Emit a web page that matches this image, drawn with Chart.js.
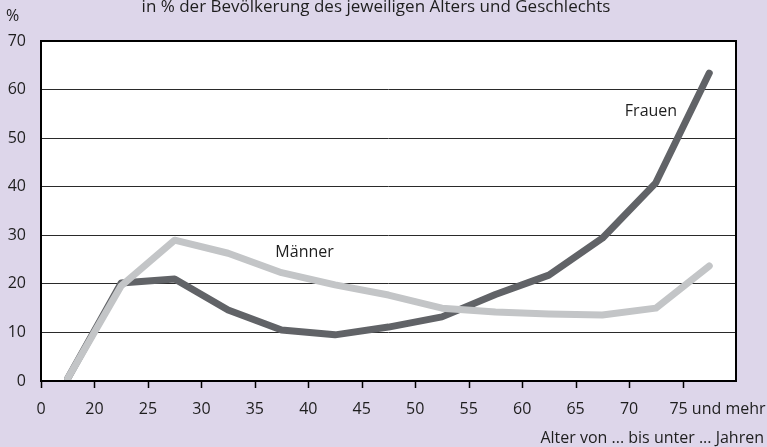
<!DOCTYPE html>
<html>
<head>
<meta charset="utf-8">
<script src="https://cdn.jsdelivr.net/npm/chart.js@4/dist/chart.umd.min.js"></script>
<style>
  html, body { margin: 0; padding: 0; background: #ddd6ea; }
  #wrap { width: 767px; height: 447px; }
</style>
</head>
<body>
<div id="wrap"><canvas id="lebenChart"></canvas></div>
<script>
// age groups (tick labels sit on the left edge of each group)
const ageLabels = ['0', '20', '25', '30', '35', '40', '45', '50', '55', '60', '65', '70', '75 und mehr'];
const frauen = [0.5, 20.2, 21.0, 14.6, 10.5, 9.5, 11.1, 13.2, 17.8, 21.8, 29.4, 40.8, 63.4];
const maenner = [0.5, 19.6, 29.0, 26.3, 22.3, 19.8, 17.7, 15.0, 14.2, 13.8, 13.6, 15.0, 23.7];
const yTicks = [0, 10, 20, 30, 40, 50, 60, 70];

const FONT = '"Open Sans", "Noto Sans", sans-serif';
const TXT = '#1e1e1e';

// series labels placed in data coordinates
const seriesNotes = [
    { text: 'Männer', x: 4.93, y: 26.4 },
    { text: 'Frauen', x: 11.41, y: 55.6 }
];

const toPoints = arr => arr.map((v, i) => ({ x: i + 0.5, y: v }));

const decor = {
    id: 'decor',
    afterDraw(chart) {
        const { ctx, chartArea: a, scales } = chart;
        const xs = scales.x, ys = scales.y;
        ctx.save();
        // frame
        ctx.strokeStyle = '#000';
        ctx.lineWidth = 2;
        ctx.strokeRect(a.left, a.top, a.right - a.left, a.bottom - a.top);
        // x tick marks
        ctx.lineWidth = 1.5;
        ctx.beginPath();
        for (let i = 0; i < ageLabels.length; i++) {
            const px = Math.round(xs.getPixelForValue(i)) + 0.5;
            ctx.moveTo(px, a.bottom);
            ctx.lineTo(px, a.bottom + 7);
        }
        ctx.stroke();
        // x labels
        ctx.fillStyle = TXT;
        ctx.font = '16px ' + FONT;
        ctx.textBaseline = 'middle';
        ageLabels.forEach((lab, i) => {
            const px = xs.getPixelForValue(i);
            if (i === ageLabels.length - 1) {
                ctx.textAlign = 'left';
                ctx.fillText(lab, px - ctx.measureText('75').width / 2 - 4, 409);
            } else {
                ctx.textAlign = 'center';
                ctx.fillText(lab, px, 409);
            }
        });
        // axis title, unit, subtitle
        ctx.textAlign = 'right';
        ctx.fillText('Alter von ... bis unter ... Jahren', 764, 438);
        ctx.textAlign = 'left';
        ctx.textBaseline = 'alphabetic';
        ctx.fillText('%', 6, 21);
        ctx.font = '17px ' + FONT;
        ctx.textAlign = 'center';
        ctx.fillText('in % der Bevölkerung des jeweiligen Alters und Geschlechts', 376, 12);
        // series labels
        ctx.font = '16px ' + FONT;
        ctx.textBaseline = 'middle';
        seriesNotes.forEach(n => {
            ctx.fillText(n.text, xs.getPixelForValue(n.x), ys.getPixelForValue(n.y));
        });
        ctx.restore();
    }
};

const bgPlugin = {
    id: 'bg',
    beforeDraw(chart) {
        const { ctx, chartArea: a } = chart;
        ctx.save();
        ctx.fillStyle = '#ddd6ea';
        ctx.fillRect(0, 0, chart.width, chart.height);
        ctx.fillStyle = '#fff';
        ctx.fillRect(a.left, a.top, a.right - a.left, a.bottom - a.top);
        ctx.restore();
    }
};

new Chart(document.getElementById('lebenChart'), {
    type: 'line',
    data: {
        datasets: [{
            label: 'Frauen',
            data: toPoints(frauen),
            borderColor: '#616367',
            borderWidth: 7,
            borderCapStyle: 'round',
            borderJoinStyle: 'round',
            pointRadius: 0,
            order: 2
        }, {
            label: 'Männer',
            data: toPoints(maenner),
            borderColor: '#c3c5c7',
            borderWidth: 7,
            borderCapStyle: 'round',
            borderJoinStyle: 'round',
            pointRadius: 0,
            order: 1
        }]
    },
    options: {
        responsive: true,
        maintainAspectRatio: false,
        animation: false,
        layout: { padding: { top: 41, right: 31, bottom: 66, left: 0 } },
        plugins: { legend: { display: false }, tooltip: { enabled: false } },
        scales: {
            x: {
                type: 'linear',
                min: 0,
                max: ageLabels.length,
                display: false
            },
            y: {
                min: 0,
                max: 70,
                afterFit(scale) { scale.width = 41; },
                afterBuildTicks(scale) { scale.ticks = yTicks.map(v => ({ value: v })); },
                border: { display: false },
                grid: { color: '#2a2a2a', lineWidth: 1, drawTicks: false },
                ticks: {
                    color: TXT,
                    font: { family: FONT, size: 16 },
                    padding: 15
                }
            }
        }
    },
    plugins: [bgPlugin, decor]
});
</script>
</body>
</html>
